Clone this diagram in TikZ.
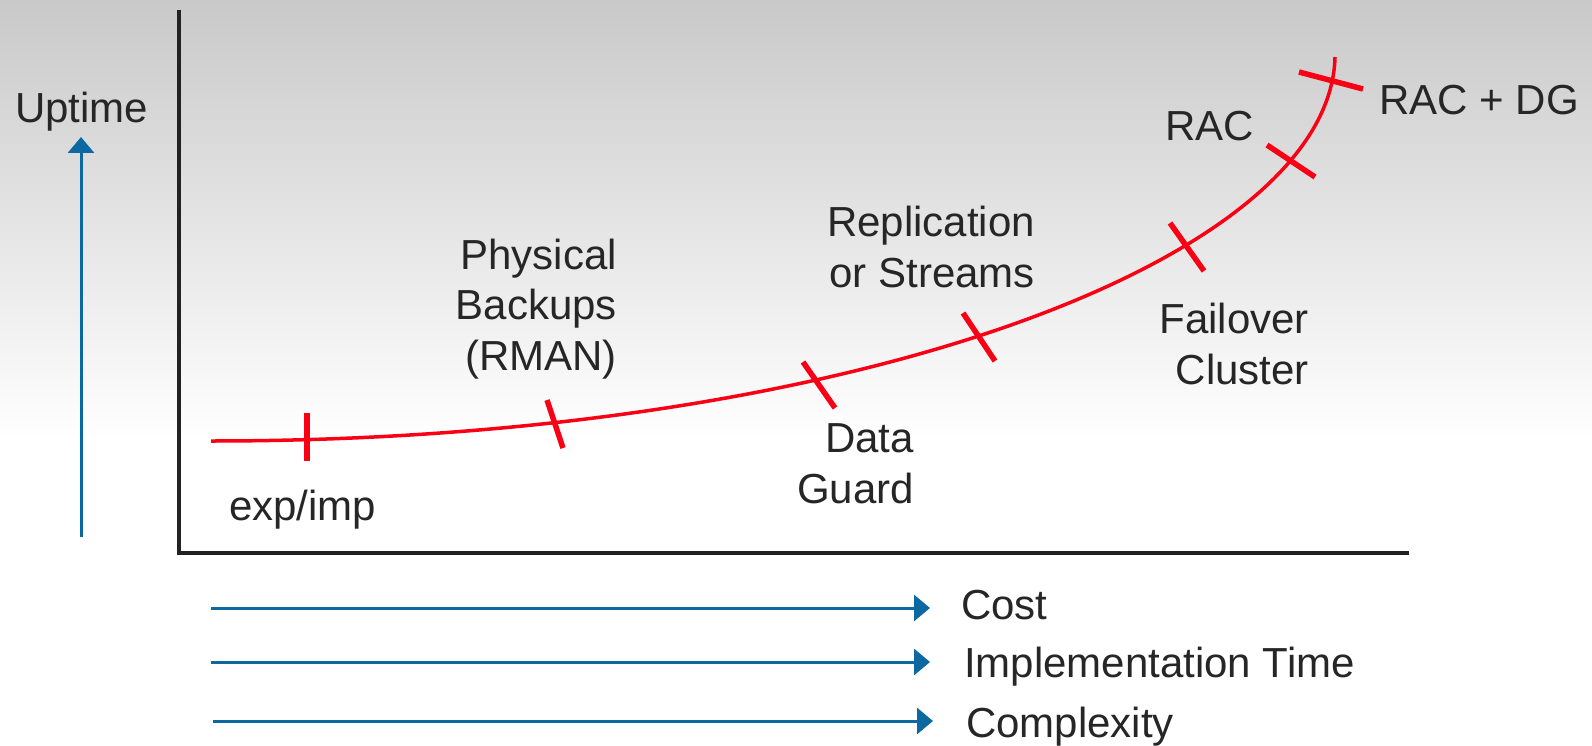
\documentclass[tikz,border=0pt]{standalone}
\usepackage{fontspec}
\setmainfont{Liberation Sans}
\usetikzlibrary{arrows.meta}
\definecolor{labelgray}{HTML}{262626}
\definecolor{axisgray}{HTML}{222222}
\definecolor{costblue}{RGB}{11,104,160}
\definecolor{curvered}{RGB}{250,0,20}
\tikzset{
  lbl/.style={inner sep=0pt, text=labelgray, font=\fontsize{42}{50.5}\selectfont},
  axisline/.style={line width=4pt, axisgray, line join=miter},
  bluearrow/.style={line width=3pt, costblue, -{Triangle[length=16pt,width=26pt]}},
  curveline/.style={line width=3.5pt, curvered},
  tickmark/.style={line width=5.5pt, curvered}
}
\begin{document}
\begin{tikzpicture}[x=1pt,y=-1pt]
\useasboundingbox (0,0) rectangle (1592,746);
%%% background fading from gray to white
\fill[white] (0,0) rectangle (1592,746);
\shade[top color={rgb,255:red,201;green,201;blue,201}, bottom color=white] (0,0) rectangle (1592,440);
%%% axes and the uptime arrow
\draw[axisline] (179,10) -- (179,553) -- (1409,553);
\node[lbl, anchor=base west] (uptime) at (15,123) {Uptime};
\coordinate (up0) at (81,537);
\coordinate (up1) at (81,137);
\draw[bluearrow] (up0) -- (up1);
%%% the red curve and its tick marks
\coordinate (c0) at (211,441);
\coordinate (c1) at (1335,57);
\draw[curveline] (c0) .. controls (850,441) and (1330,260) .. (c1);
\draw[tickmark] (307,413) -- (307,461);
\draw[tickmark] (547,400) -- (563,448);
\draw[tickmark] (803,362) -- (835,408);
\draw[tickmark] (963,313) -- (995,361);
\draw[tickmark] (1170,223) -- (1204,271);
\draw[tickmark] (1267,145) -- (1315,177);
\draw[tickmark] (1299,72) -- (1363,89);
%%% the labels of the options
\node[lbl, anchor=base west] (expimp) at (229,520) {exp/imp};
\node[lbl, anchor=base east, align=right] (rman) at (617,370) {Physical\\Backups\\(RMAN)};
\node[lbl, anchor=base east, align=right] (dataguard) at (914,503) {Data\\Guard};
\node[lbl, anchor=base east, align=right] (streams) at (1035,287) {Replication\\or Streams};
\node[lbl, anchor=base east, align=right] (failover) at (1309,384) {Failover\\Cluster};
\node[lbl, anchor=base west] (rac) at (1165,141) {RAC};
\node[lbl, anchor=base west] (racdg) at (1379,115) {RAC + DG};
%%% what grows along the x axis
\node[lbl, anchor=base west] (cost) at (961,619) {Cost};
\node[lbl, anchor=base west] (impltime) at (964,677) {Implementation Time};
\node[lbl, anchor=base west] (complexity) at (966,737) {Complexity};
\coordinate (cost0) at (211,608);
\coordinate (cost1) at (930,608);
\coordinate (impl0) at (211,662);
\coordinate (impl1) at (930,662);
\coordinate (cplx0) at (213,721);
\coordinate (cplx1) at (933,721);
\draw[bluearrow] (cost0) -- (cost1);
\draw[bluearrow] (impl0) -- (impl1);
\draw[bluearrow] (cplx0) -- (cplx1);
\end{tikzpicture}
\end{document}
